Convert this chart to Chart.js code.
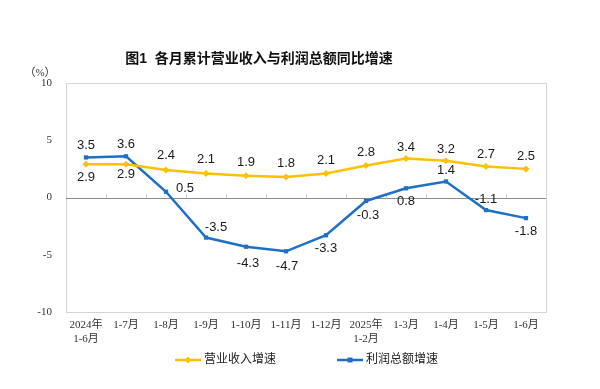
<!DOCTYPE html>
<html><head><meta charset="utf-8">
<script src="https://cdn.jsdelivr.net/npm/chart.js@4/dist/chart.umd.min.js"></script>
<style>html,body{margin:0;padding:0;background:#fff}#wrap{width:600px;height:389px;position:relative}</style>
</head><body><div id="wrap"><canvas id="c" width="600" height="389"></canvas></div>
<script>
const categories = [['2024年','1-6月'],'1-7月','1-8月','1-9月','1-10月','1-11月','1-12月',['2025年','1-2月'],'1-3月','1-4月','1-5月','1-6月'];
const revenueGrowth = [2.9,2.9,2.4,2.1,1.9,1.8,2.1,2.8,3.4,3.2,2.7,2.5];
const profitGrowth = [3.5,3.6,0.5,-3.5,-4.3,-4.7,-3.3,-0.3,0.8,1.4,-1.1,-1.8];
const yTicks = [-10,-5,0,5,10];
const seriesNames = ['营业收入增速','利润总额增速'];
const titleText = '图1  各月累计营业收入与利润总额同比增速';
const unitText = '（%）';

// label placement (dx, dy) relative to points
const revLabelPos = [[0,13],[0,10],[0,-15],[0,-14],[0,-13],[0,-13],[0,-13],[0,-13],[0,-11],[0,-11],[0,-12],[0,-12]];
const profLabelPos = [[0,-12],[0,-12],[19,-3],[10,-10],[2,17],[1,15],[0,13],[2,14],[0,13],[0,-11],[0,-11],[0,13]];

const YEL = '#FFC000', BLU = '#1F6FC6';
const serif = '"Liberation Serif","Noto Sans CJK SC",serif';
const sans = '"Liberation Sans","Noto Sans CJK SC",sans-serif';

const decor = {
  id: 'decor',
  beforeDatasetsDraw(chart) {
    const {ctx, chartArea: a, scales: {x, y}} = chart;
    ctx.save();
    ctx.strokeStyle = '#D4D4D4'; ctx.lineWidth = 1;
    ctx.strokeRect(Math.round(a.left)+0.5, Math.round(a.top)+0.5, Math.round(a.right-a.left), Math.round(a.bottom-a.top));
    const y0 = Math.round(y.getPixelForValue(0))+0.5;
    ctx.strokeStyle = '#8A8A8A';
    ctx.beginPath(); ctx.moveTo(a.left, y0); ctx.lineTo(a.right, y0); ctx.stroke();
    const half = (x.getPixelForValue(1) - x.getPixelForValue(0))/2;
    ctx.strokeStyle = '#C8C8C8';
    for (let i = 1; i < categories.length; i++) {
      const px = Math.round(x.getPixelForValue(i) - half)+0.5;
      ctx.beginPath(); ctx.moveTo(px, y0); ctx.lineTo(px, y0-4); ctx.stroke();
    }
    ctx.restore();
  },
  afterDraw(chart) {
    const {ctx, scales: {x, y}} = chart;
    ctx.save();
    // title
    ctx.fillStyle = '#111';
    ctx.font = 'bold 14px ' + sans;
    ctx.textAlign = 'center'; ctx.textBaseline = 'middle';
    ctx.fillText(titleText, 259, 59);
    ctx.font = '11px ' + serif;
    ctx.fillStyle = '#333';
    ctx.fillText(unitText, 40, 73);
    // data labels
    ctx.font = '13px ' + sans;
    ctx.fillStyle = '#1a1a1a';
    const sets = [[revenueGrowth, revLabelPos],[profitGrowth, profLabelPos]];
    sets.forEach(([vals,pos]) => {
      vals.forEach((v,i) => {
        const px = x.getPixelForValue(i) + pos[i][0];
        const py = y.getPixelForValue(v) + pos[i][1];
        ctx.fillText(v.toFixed(1), px, py);
      });
    });
    // legend
    const items = [[YEL,'rectRot',175,seriesNames[0]],[BLU,'rect',337,seriesNames[1]]];
    const ly = 360;
    items.forEach(([col, st, lx, name]) => {
      ctx.strokeStyle = col; ctx.lineWidth = 2.5;
      ctx.beginPath(); ctx.moveTo(lx, ly); ctx.lineTo(lx+26, ly); ctx.stroke();
      ctx.fillStyle = col;
      ctx.save(); ctx.translate(lx+13, ly);
      if (st === 'rectRot') ctx.rotate(Math.PI/4);
      ctx.fillRect(-2.5,-2.5,5,5);
      ctx.restore();
      ctx.fillStyle = '#222';
      ctx.font = '12px ' + sans;
      ctx.textAlign = 'left';
      ctx.fillText(name, lx+29, ly);
    });
    ctx.restore();
  }
};

new Chart(document.getElementById('c'), {
  type: 'line',
  data: {
    labels: categories,
    datasets: [
      {label: seriesNames[0], data: revenueGrowth, borderColor: YEL, backgroundColor: YEL, borderWidth: 2.5,
       pointStyle: 'rectRot', pointRadius: 3.5, pointBorderWidth: 0, tension: 0},
      {label: seriesNames[1], data: profitGrowth, borderColor: BLU, backgroundColor: BLU, borderWidth: 2.5,
       pointStyle: 'rect', pointRadius: 3, pointBorderWidth: 0, tension: 0}
    ]
  },
  options: {
    responsive: false, animation: false,
    layout: {padding: {top: 83, right: 54, bottom: 30, left: 0}},
    plugins: {legend: {display: false}, title: {display: false}, tooltip: {enabled: false}},
    scales: {
      x: {
        offset: true,
        grid: {display: false, drawTicks: false},
        border: {display: false},
        ticks: {autoSkip: false, maxRotation: 0, padding: 7, color: '#333', font: {family: serif, size: 11}},
        afterFit(s) { s.height = 47; }
      },
      y: {
        min: -10, max: 10,
        afterBuildTicks(s) { s.ticks = yTicks.map(v => ({value: v})); },
        grid: {display: false, drawTicks: false},
        border: {display: false},
        ticks: {padding: 14, color: '#333', font: {family: serif, size: 11}},
        afterFit(s) { s.width = 66; }
      }
    }
  },
  plugins: [decor]
});
</script>
</body></html>
